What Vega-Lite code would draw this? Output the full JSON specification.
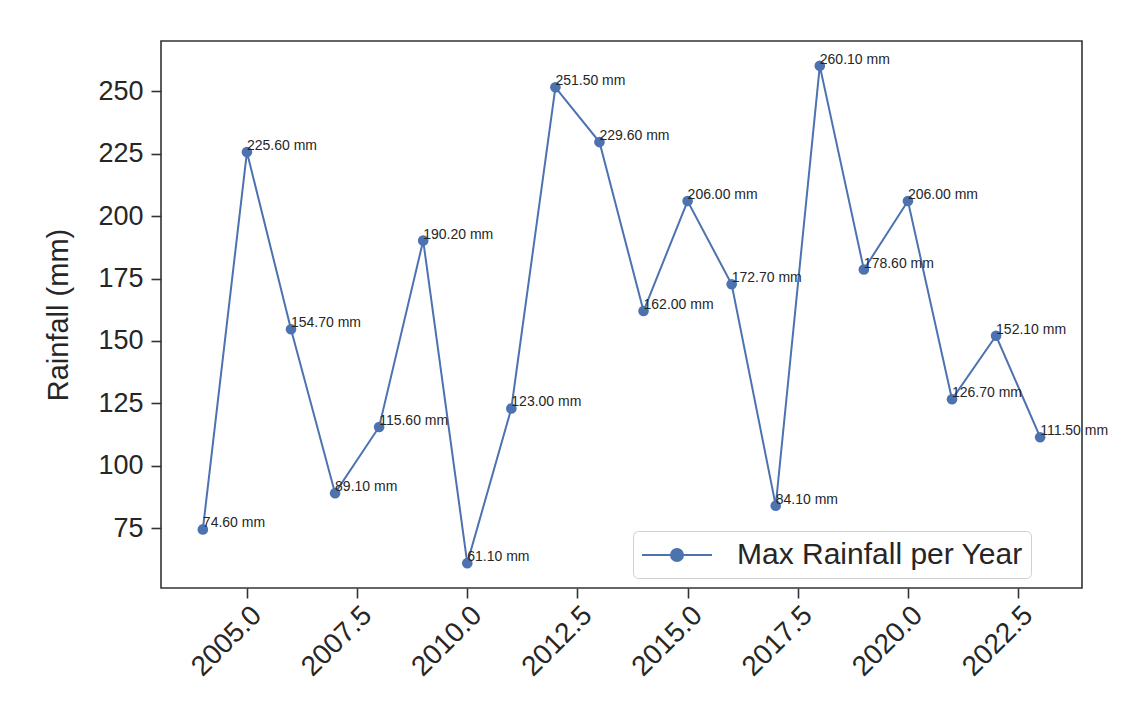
{
  "$schema": "https://vega.github.io/schema/vega-lite/v6.json",
  "autosize": {"type": "none"},
  "width": 921,
  "height": 547,
  "padding": {"left": 161, "top": 41, "right": 61, "bottom": 115},
  "background": "white",
  "config": {
    "font": "Liberation Sans",
    "view": {"stroke": "#333333", "strokeWidth": 1.6},
    "axis": {
      "grid": false,
      "domain": false,
      "tickColor": "#333333",
      "tickWidth": 1.6,
      "tickSize": 10,
      "labelColor": "#262626",
      "titleColor": "#262626",
      "labelFont": "Liberation Sans",
      "titleFont": "Liberation Sans",
      "titleFontWeight": "normal"
    }
  },
  "data": {
    "values": [
      {"year": 2004, "rainfall": 74.6, "label": "74.60 mm"},
      {"year": 2005, "rainfall": 225.6, "label": "225.60 mm"},
      {"year": 2006, "rainfall": 154.7, "label": "154.70 mm"},
      {"year": 2007, "rainfall": 89.1, "label": "89.10 mm"},
      {"year": 2008, "rainfall": 115.6, "label": "115.60 mm"},
      {"year": 2009, "rainfall": 190.2, "label": "190.20 mm"},
      {"year": 2010, "rainfall": 61.1, "label": "61.10 mm"},
      {"year": 2011, "rainfall": 123.0, "label": "123.00 mm"},
      {"year": 2012, "rainfall": 251.5, "label": "251.50 mm"},
      {"year": 2013, "rainfall": 229.6, "label": "229.60 mm"},
      {"year": 2014, "rainfall": 162.0, "label": "162.00 mm"},
      {"year": 2015, "rainfall": 206.0, "label": "206.00 mm"},
      {"year": 2016, "rainfall": 172.7, "label": "172.70 mm"},
      {"year": 2017, "rainfall": 84.1, "label": "84.10 mm"},
      {"year": 2018, "rainfall": 260.1, "label": "260.10 mm"},
      {"year": 2019, "rainfall": 178.6, "label": "178.60 mm"},
      {"year": 2020, "rainfall": 206.0, "label": "206.00 mm"},
      {"year": 2021, "rainfall": 126.7, "label": "126.70 mm"},
      {"year": 2022, "rainfall": 152.1, "label": "152.10 mm"},
      {"year": 2023, "rainfall": 111.5, "label": "111.50 mm"}
    ]
  },
  "encoding": {
    "x": {
      "field": "year",
      "type": "quantitative",
      "scale": {"domain": [2003.05, 2023.95], "nice": false, "zero": false},
      "axis": {
        "title": null,
        "values": [2005, 2007.5, 2010, 2012.5, 2015, 2017.5, 2020, 2022.5],
        "format": ".1f",
        "labelAngle": -45,
        "labelAlign": "right",
        "labelBaseline": "top",
        "labelFontSize": 28,
        "labelPadding": 3,
        "labelOverlap": false,
        "labelFlush": false
      }
    },
    "y": {
      "field": "rainfall",
      "type": "quantitative",
      "scale": {"domain": [51.15, 270.05], "nice": false, "zero": false},
      "axis": {
        "title": "Rainfall (mm)",
        "values": [75, 100, 125, 150, 175, 200, 225, 250],
        "labelFontSize": 27,
        "labelPadding": 8,
        "titleFontSize": 29,
        "titlePadding": 24,
        "labelOverlap": false,
        "labelFlush": false
      }
    }
  },
  "layer": [
    {
      "mark": {"type": "line", "strokeWidth": 2, "color": "#4c72b0"},
      "encoding": {
        "color": {
          "datum": "Max Rainfall per Year",
          "scale": {"range": ["#4c72b0"]},
          "legend": {
            "title": null,
            "orient": "none",
            "legendX": 472,
            "legendY": 490,
            "padding": 8,
            "cornerRadius": 5,
            "strokeColor": "#d0d0d0",
            "fillColor": "white",
            "labelFontSize": 30,
            "labelLimit": 500,
            "labelColor": "#262626",
            "labelFont": "Liberation Sans",
            "labelOffset": 44,
            "symbolOffset": 20,
            "symbolType": "M-2.33,0H2.33M0.4,0A0.4,0.4 0 1,1 -0.4,0A0.4,0.4 0 1,1 0.4,0Z",
            "symbolSize": 900,
            "symbolStrokeWidth": 2,
            "symbolStrokeColor": "#4c72b0",
            "symbolFillColor": "#4c72b0",
            "encode": {
              "symbols": {"update": {"fill": {"value": "#4c72b0"}, "stroke": {"value": "#4c72b0"}, "strokeWidth": {"value": 2}}}
            }
          }
        }
      }
    },
    {
      "mark": {"type": "point", "filled": true, "size": 113, "opacity": 1, "color": "#4c72b0"}
    },
    {
      "mark": {"type": "text", "align": "left", "baseline": "alphabetic", "dy": -2, "fontSize": 14, "color": "#262626"},
      "encoding": {"text": {"field": "label"}}
    }
  ]
}
